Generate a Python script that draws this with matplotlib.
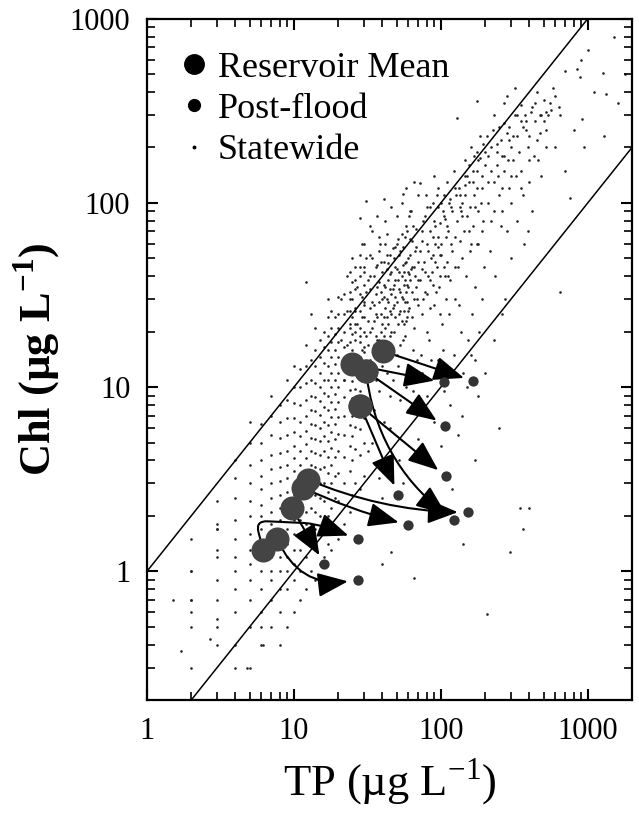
import matplotlib.pyplot as plt
from matplotlib.patches import FancyArrowPatch
from matplotlib.lines import Line2D
from matplotlib.ticker import FixedLocator, LogLocator, NullFormatter, FuncFormatter

plt.rcParams["font.family"] = ["Liberation Serif", "DejaVu Serif"]
plt.rcParams["mathtext.fontset"] = "custom"
plt.rcParams["mathtext.rm"] = "Liberation Serif"
plt.rcParams["mathtext.bf"] = "Liberation Serif:bold"

# reservoir means -> post-flood values (TP, Chl in ug/L)
means_tp = [40.1, 24.7, 30.9, 30.9, 28.4, 28.4, 12.4, 11.6, 9.65, 7.7, 6.18]
means_chl = [15.7, 13.3, 12.2, 12.2, 7.88, 7.88, 3.15, 2.84, 2.21, 1.49, 1.31]
post_tp = [166, 105, 106, 123, 51.3, 108, 152, 59.9, 16.1, 27.1, 27.1]
post_chl = [10.8, 10.6, 6.14, 1.89, 2.61, 3.28, 2.09, 1.79, 1.10, 0.90, 1.50]

# reference lines Chl = ratio * TP
line_ratio = [1.0, 0.1]

# statewide data: low TP values come in integer steps (columns)
sw_cols_tp = [2, 3, 4, 5, 6, 7, 8, 9, 10, 11, 12, 13, 14, 15, 16, 17, 18, 19, 20,
              22, 24, 25, 26, 28, 30]
sw_cols_chl = [
    [0.3, 0.5, 0.6, 0.7, 1.0, 1.5],
    [0.4, 0.5, 0.7, 0.9, 1.2, 1.3, 1.7, 1.8, 2.4],
    [0.3, 0.4, 0.6, 0.8, 1.0, 1.2, 1.5, 1.9, 2.5, 3.2, 4.0],
    [0.3, 0.5, 0.7, 0.9, 1.1, 1.3, 1.6, 2.0, 2.4, 3.0, 3.8, 5.0, 6.5],
    [0.4, 0.5, 0.6, 0.8, 1.0, 1.2, 1.4, 1.7, 2.0, 2.3, 2.8, 3.3, 4.0, 5.0, 6.3],
    [0.5, 0.7, 0.9, 1.0, 1.2, 1.5, 1.8, 2.1, 2.5, 3.0, 3.6, 4.3, 5.5, 7.0, 9.0],
    [0.4, 0.6, 0.8, 1.0, 1.2, 1.4, 1.6, 1.9, 2.2, 2.6, 3.1, 3.7, 4.4, 5.3, 6.5, 8.0],
    [0.5, 0.8, 1.0, 1.2, 1.4, 1.7, 2.0, 2.3, 2.7, 3.2, 3.8, 4.5, 5.5, 6.8, 8.5, 11],
    [0.6, 0.9, 1.1, 1.3, 1.6, 1.9, 2.2, 2.6, 3.0, 3.5, 4.1, 4.8, 5.7, 6.8, 8.2, 10, 13],
    [0.7, 1.0, 1.3, 1.6, 1.9, 2.3, 2.7, 3.2, 3.8, 4.5, 5.4, 6.5, 8.0, 10, 12.5],
    [0.8, 1.2, 1.5, 1.8, 2.1, 2.5, 3.0, 3.5, 4.1, 4.9, 5.8, 7.0, 8.5, 10.5, 13, 17],
    [1.0, 1.4, 1.8, 2.2, 2.7, 3.2, 3.8, 4.5, 5.3, 6.3, 7.5, 9.0, 11, 14],
    [0.9, 1.3, 1.7, 2.1, 2.6, 3.1, 3.7, 4.4, 5.2, 6.2, 7.4, 8.8, 10.5, 13, 16, 21],
    [1.1, 1.6, 2.0, 2.5, 3.0, 3.6, 4.3, 5.1, 6.0, 7.1, 8.4, 10, 12, 14.5, 18],
    [1.2, 1.8, 2.4, 3.0, 3.7, 4.5, 5.4, 6.5, 7.8, 9.3, 11, 13.5, 16.5, 20],
    [1.4, 2.0, 2.7, 3.4, 4.2, 5.1, 6.2, 7.5, 9.0, 11, 13, 16, 19, 24],
    [1.3, 2.2, 3.0, 3.8, 4.7, 5.7, 6.9, 8.3, 10, 12, 14.5, 17.5, 21, 26],
    [1.6, 2.5, 3.3, 4.2, 5.2, 6.3, 7.6, 9.2, 11, 13.3, 16, 19.5, 24],
    [1.5, 2.4, 3.4, 4.5, 5.6, 6.9, 8.3, 10, 12, 14.5, 17.5, 21, 25, 31],
    [1.8, 3.0, 4.2, 5.5, 7.0, 8.8, 11, 13.5, 16.5, 20, 25, 32],
    [2.1, 3.5, 4.8, 6.2, 7.8, 9.6, 12, 14.5, 17.5, 21, 26, 33, 42],
    [2.6, 4.0, 5.4, 7.0, 8.7, 10.8, 13.2, 16, 19.5, 24, 30, 37],
    [3.0, 4.6, 6.1, 7.8, 9.8, 12, 14.8, 18, 22, 27, 34, 45],
    [2.8, 4.3, 5.9, 7.6, 9.5, 11.8, 14.5, 17.5, 21, 26, 32, 40, 52],
    [3.3, 5.0, 6.8, 8.7, 11, 13.5, 16.5, 20, 24, 29, 36, 45, 60],
]

# statewide data: scattered (TP, Chl) pairs
sw_pairs = [
    (32, 8.5), (33, 14), (34, 21), (35, 28), (36, 11), (37, 35), (38, 18), (39, 25),
    (40, 42), (41, 6.5), (42, 16), (43, 30), (44, 22), (45, 52), (32, 38), (34, 5.0),
    (36, 45), (38, 9.5), (40, 13), (42, 27), (44, 38), (35, 17), (37, 24), (39, 33),
    (41, 19), (43, 12), (45, 26), (33, 27), (36, 32), (40, 22), (44, 15), (42, 60),
    (38, 55), (34, 70), (31, 50), (45, 9), (43, 44), (39, 14.5), (35, 7.5), (41, 31),
    (46, 20), (47, 34), (48, 28), (49, 45), (50, 15), (51, 38), (52, 25), (53, 55),
    (54, 31), (55, 18), (56, 42), (57, 65), (58, 23), (59, 36), (60, 50), (61, 27),
    (62, 12), (63, 44), (64, 33), (65, 75), (66, 21), (67, 40), (68, 58), (69, 30),
    (70, 48), (47, 11), (50, 60), (53, 8.5), (56, 26), (59, 70), (62, 38), (65, 16),
    (68, 35), (48, 50), (52, 42), (55, 30), (58, 48), (61, 85), (64, 24), (67, 55),
    (70, 28), (46, 32), (49, 24), (54, 68), (57, 19), (60, 35), (63, 90), (66, 45),
    (69, 14), (51, 13), (58, 10), (64, 62),
    (21, 18), (23, 26), (27, 22), (29, 31), (31, 19), (33, 40), (35, 23), (37, 46),
    (39, 20), (41, 36), (43, 24), (45, 34), (47, 27), (49, 38), (51, 22), (53, 33),
    (55, 46), (57, 29), (59, 24), (61, 41), (23, 14), (27, 35), (29, 16), (33, 34),
    (37, 15), (41, 48), (45, 19), (49, 58), (53, 17), (57, 38), (26, 20), (30, 28),
    (34, 13), (38, 29), (42, 21), (46, 42), (50, 29), (54, 23), (58, 33), (62, 52),
    (24, 30), (28, 45), (32, 23), (36, 19), (40, 30), (44, 47), (48, 36), (52, 52),
    (56, 36), (60, 26),
    (22, 11), (23, 17), (24, 22), (25, 15), (26, 26), (27, 12), (28, 19), (29, 24),
    (30, 15.5), (31, 33), (32, 17), (33, 20), (34, 29), (35, 40), (36, 25), (37, 18),
    (38, 37), (39, 48), (40, 17), (41, 24), (42, 35), (43, 52), (44, 29), (45, 41),
    (46, 25), (47, 57), (48, 20), (49, 31), (50, 44), (51, 64), (52, 34), (53, 26),
    (54, 40), (55, 58), (56, 22), (57, 47), (58, 75), (59, 29), (60, 42), (62, 64),
    (64, 45), (66, 30), (68, 72), (70, 38), (72, 55), (74, 44), (76, 80), (78, 33),
    (80, 60), (82, 40), (84, 95), (86, 50), (88, 36), (90, 80), (92, 48), (94, 110),
    (96, 65), (98, 52), (100, 100), (26, 38), (30, 42), (34, 50), (38, 65), (42, 80),
    (46, 95), (50, 85), (54, 100), (58, 120), (62, 90), (66, 130), (70, 110),
    (25, 50), (29, 60), (33, 75), (37, 85), (41, 105), (23, 40), (21, 30), (17, 30),
    (13, 25),
    (72, 38), (74, 62), (75, 25), (77, 48), (78, 85), (80, 32), (82, 55), (83, 18),
    (85, 70), (87, 42), (88, 100), (90, 28), (92, 60), (94, 45), (95, 120), (97, 35),
    (99, 78), (100, 52), (102, 22), (104, 90), (106, 40), (108, 65), (110, 130),
    (73, 15), (76, 30), (79, 110), (81, 20), (84, 38), (86, 14), (89, 52), (91, 75),
    (93, 33), (96, 95), (98, 25), (101, 60), (103, 16), (105, 45), (107, 82),
    (109, 30), (75, 70), (80, 95), (85, 27), (90, 140), (95, 58), (100, 12),
    (105, 110), (110, 48), (78, 42), (88, 65), (98, 40),
    (112, 70), (115, 38), (118, 95), (120, 55), (123, 150), (125, 30), (128, 80),
    (130, 45), (133, 120), (135, 62), (138, 20), (140, 100), (143, 70), (145, 170),
    (148, 40), (150, 85), (155, 130), (158, 55), (160, 200), (165, 75), (168, 110),
    (170, 35), (175, 150), (178, 90), (180, 60), (185, 230), (190, 120), (195, 80),
    (200, 160), (114, 25), (122, 15), (132, 28), (142, 12), (152, 18), (162, 25),
    (172, 14), (182, 20), (192, 30), (117, 60), (127, 110), (137, 90), (147, 110),
    (157, 95), (167, 180), (177, 60), (187, 100), (197, 45),
    (120, 90), (135, 110), (150, 140), (165, 130), (180, 170), (200, 190), (220, 150),
    (240, 210), (260, 180), (280, 240), (300, 200), (330, 230), (360, 260), (400, 230),
    (440, 280), (480, 300), (520, 250), (560, 320), (110, 75), (125, 65), (140, 85),
    (155, 70), (170, 95), (190, 140), (210, 100), (230, 130), (250, 110), (270, 150),
    (290, 120), (310, 170), (350, 150), (390, 200), (430, 180), (470, 240), (113, 100),
    (146, 125), (176, 120), (205, 230), (245, 140), (285, 170), (325, 140), (375, 300),
    (105, 85), (115, 105), (125, 120), (135, 95), (145, 140), (155, 160), (165, 150),
    (175, 190), (185, 175), (195, 210), (210, 180), (225, 250), (240, 190), (255, 220),
    (270, 270), (290, 260), (310, 230), (330, 300), (350, 340), (380, 280), (410, 310),
    (440, 350), (470, 300), (500, 360), (540, 300), (600, 380), (640, 330), (520, 200),
    (460, 170), (400, 130), (350, 120), (300, 100), (260, 90), (220, 80), (190, 70),
    (160, 60), (140, 50), (125, 45), (112, 40),
    (210, 130), (220, 200), (230, 90), (240, 160), (250, 260), (260, 120), (270, 180),
    (280, 70), (290, 220), (300, 140), (320, 300), (340, 190), (360, 110), (380, 250),
    (400, 170), (420, 330), (450, 220), (480, 140), (500, 280), (550, 350), (600, 200),
    (215, 55), (235, 40), (255, 75), (275, 30), (300, 50), (330, 80), (370, 60),
    (420, 90), (230, 300), (270, 350), (320, 420), (350, 280), (450, 400), (520, 310),
    (580, 420),
    (650, 300), (700, 520), (800, 250), (900, 600), (1000, 680), (1100, 400),
    (1270, 510), (1500, 800), (700, 150), (950, 200), (1300, 230), (1600, 350),
    (1800, 500), (840, 535), (880, 480), (920, 286), (1340, 390), (760, 106),
    (390, 70), (650, 33),
    (32, 4.5), (38, 3.2), (45, 6), (52, 4), (60, 7.5), (70, 5.2), (80, 9), (90, 6.5),
    (100, 4.8), (115, 8), (130, 5.5), (150, 10), (40, 2.5), (55, 3), (65, 9.5),
    (75, 12), (85, 3.8), (95, 14), (105, 9.5), (120, 12), (140, 7), (160, 15),
    (180, 9), (200, 12), (230, 18), (260, 25), (46, 1.28), (40, 1.1), (66, 0.92),
    (141, 1.4), (295, 1.28), (360, 1.7), (345, 2.2), (400, 2.2), (205, 0.59),
    (120, 2.8), (170, 4), (250, 6),
    (1.7, 0.37), (2.7, 0.43), (3, 0.55), (2, 1.0), (2, 0.7), (3, 1.7), (4.8, 0.3),
    (6.2, 0.4), (1.5, 0.7), (12, 37),
    (72, 128), (55, 112), (42.8, 67.5), (38.5, 60), (32.8, 52), (128, 290),
    (175, 357), (282, 380), (28, 83), (31, 102),
]

sw_x = []
sw_y = []
for tp, chls in zip(sw_cols_tp, sw_cols_chl):
    sw_x += [tp] * len(chls)
    sw_y += chls
sw_x += [p[0] for p in sw_pairs]
sw_y += [p[1] for p in sw_pairs]

# curve of each arrow
arrow_conn = [
    "arc3,rad=0", "arc3,rad=0", "arc3,rad=0", "arc3,rad=0.22", "arc3,rad=0",
    "arc3,rad=0", "arc3,rad=0.1", "arc3,rad=0.05", "arc3,rad=0", "arc3,rad=0.4",
    "arc,angleA=105,angleB=160,armA=30,armB=45,rad=12",
]

fig = plt.figure(figsize=(6.39, 8.15), dpi=100)
ax = fig.add_axes([0.23, 0.141, 0.759, 0.836])
ax.set_xscale("log")
ax.set_yscale("log")
ax.set_xlim(1, 2000)
ax.set_ylim(0.2, 1000)

ax.scatter(sw_x, sw_y, s=3.5, color="#222222", linewidths=0, zorder=1)

for r in line_ratio:
    ax.axline((1, r), (10, 10 * r), color="black", lw=1.1, zorder=2)

for i in range(len(means_tp)):
    arr = FancyArrowPatch((means_tp[i], means_chl[i]), (post_tp[i], post_chl[i]),
                          connectionstyle=arrow_conn[i],
                          arrowstyle="-|>,head_length=0.75,head_width=0.3",
                          mutation_scale=25, lw=1.5, color="black",
                          shrinkA=0, shrinkB=7, zorder=3)
    ax.add_patch(arr)

ax.scatter(means_tp, means_chl, s=300, color="#444444", linewidths=0, zorder=4)
ax.scatter(post_tp, post_chl, s=55, color="#333333", linewidths=0, zorder=4)

# legend
handles = [
    Line2D([], [], ls="", marker="o", color="black", markersize=14),
    Line2D([], [], ls="", marker="o", color="black", markersize=8.5),
    Line2D([], [], ls="", marker="o", color="black", markersize=1.8),
]
ax.legend(handles, ["Reservoir Mean", "Post-flood", "Statewide"],
          loc="upper left", bbox_to_anchor=(0.06, 0.952), frameon=False,
          fontsize=26, handlelength=1.0, handletextpad=0.15, labelspacing=0.22,
          borderaxespad=0, borderpad=0)

# axes and ticks
majors = [1, 10, 100, 1000]
fmt = FuncFormatter(lambda v, p: f"{v:g}")
for axis in (ax.xaxis, ax.yaxis):
    axis.set_major_locator(FixedLocator(majors))
    axis.set_minor_locator(LogLocator(base=10, subs=range(2, 10)))
    axis.set_major_formatter(fmt)
    axis.set_minor_formatter(NullFormatter())

ax.tick_params(which="both", direction="in", top=True, right=True,
               labelsize=22, pad=12)
ax.tick_params(which="major", length=8, width=1.5)
ax.tick_params(which="minor", length=6, width=1.2)
for sp in ax.spines.values():
    sp.set_linewidth(1.6)

ax.set_xlabel("TP (µg L$^{-1}$)", fontsize=32, labelpad=8)
ax.set_ylabel("Chl (µg L$^{\\mathbf{-1}}$)", fontsize=32, fontweight="bold",
              labelpad=5)

fig.savefig("out.png", dpi=100)
